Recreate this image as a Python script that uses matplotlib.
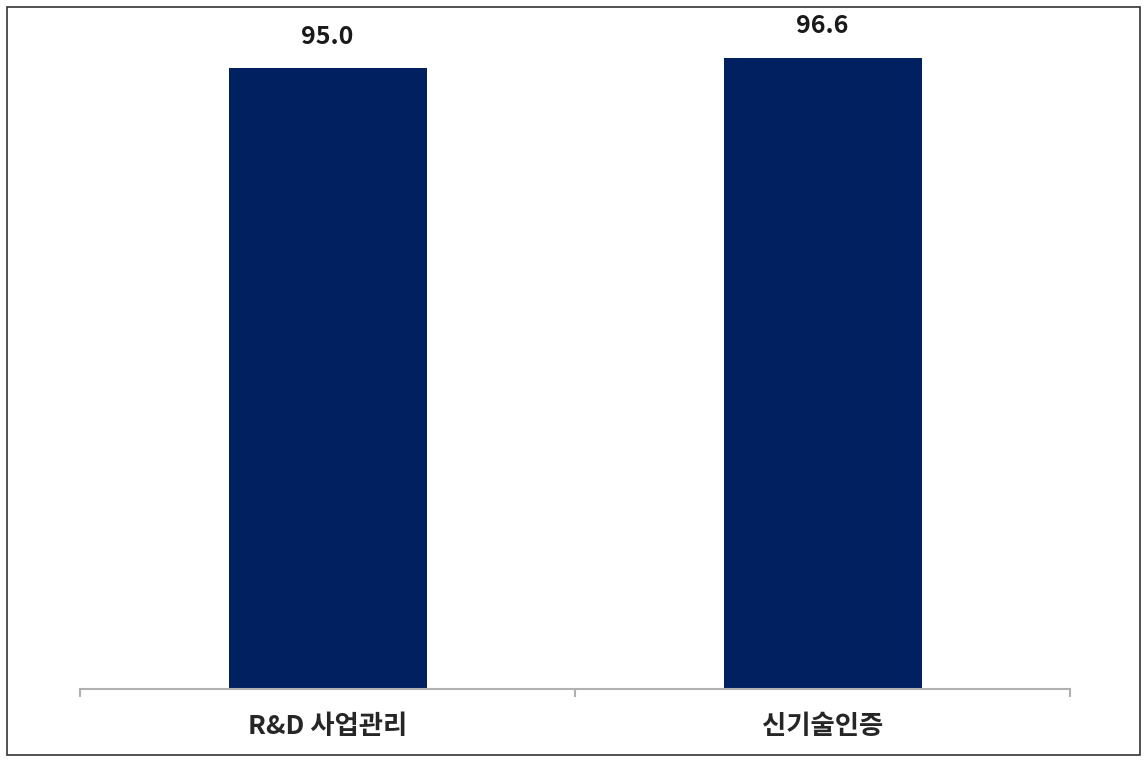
import matplotlib.pyplot as plt
from matplotlib.patches import Rectangle

plt.rcParams['font.family'] = ['Noto Sans CJK KR', 'DejaVu Sans']

categories = ["R&D 사업관리", "신기술인증"]
values = [95.0, 96.6]

W, H = 1148, 762
fig = plt.figure(figsize=(W / 100, H / 100), dpi=100, facecolor='w')
ax = fig.add_axes([80 / W, 73 / H, 990 / W, 669 / H])

x = range(len(categories))
bars = ax.bar(x, values, width=0.4, color='#002060', zorder=2)
ax.set_xlim(-0.5, len(categories) - 0.5)
ax.set_ylim(0, 102.4)

for b, v in zip(bars, values):
    ax.annotate(f"{v:.1f}", (b.get_x() + b.get_width() / 2, v),
                xytext=(0, 14), textcoords='offset points',
                ha='center', va='bottom', fontsize=18, fontweight='bold',
                color='#1a1a1a')

for s in ['top', 'right', 'left']:
    ax.spines[s].set_visible(False)
ax.spines['bottom'].set_color('#b0b0b0')
ax.spines['bottom'].set_linewidth(1.5)
ax.set_yticks([])

# category boundary ticks
ax.set_xticks([-0.5, 0.5, 1.5])
ax.set_xticklabels([])
ax.tick_params(axis='x', length=6, width=1.5, color='#b0b0b0', direction='out')
ax.set_xticks(list(x), minor=True)
ax.set_xticklabels(categories, minor=True, fontsize=19, fontweight='bold',
                   color='#262626')
ax.tick_params(axis='x', which='minor', length=0, pad=17)

fig.patches.append(Rectangle((7 / W, 7 / H), 1133 / W, 748 / H,
                             transform=fig.transFigure, fill=False,
                             edgecolor='#333333', linewidth=1.2))

fig.savefig('out.png', dpi=100)
